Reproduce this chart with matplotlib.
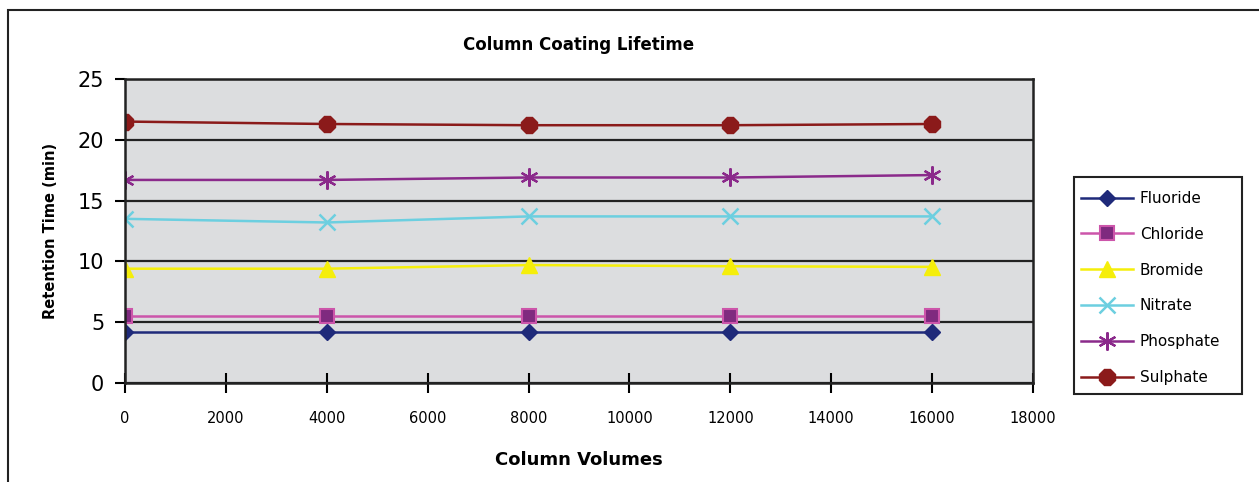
import matplotlib
matplotlib.use("Agg")
import matplotlib.pyplot as plt
from matplotlib.patches import Rectangle

column_volumes = [0, 4000, 8000, 12000, 16000]
fluoride = [4.2, 4.2, 4.2, 4.2, 4.2]
chloride = [5.5, 5.5, 5.5, 5.5, 5.5]
bromide = [9.4, 9.4, 9.7, 9.6, 9.55]
nitrate = [13.5, 13.2, 13.7, 13.7, 13.7]
phosphate = [16.7, 16.7, 16.9, 16.9, 17.1]
sulphate = [21.5, 21.3, 21.2, 21.2, 21.3]

series = [
    ("Fluoride", fluoride, dict(color="#1f2a7a", marker="D", markersize=8, mfc="#1f2a7a", mec="#1f2a7a")),
    ("Chloride", chloride, dict(color="#cc55aa", marker="s", markersize=10, mfc="#7f2a7f", mec="#cc55aa", mew=1.5)),
    ("Bromide", bromide, dict(color="#f5ee0a", marker="^", markersize=11, mfc="#f5ee0a", mec="#f5ee0a")),
    ("Nitrate", nitrate, dict(color="#6ccfe0", marker="x", markersize=11, mew=1.8, mec="#6ccfe0")),
    ("Phosphate", phosphate, dict(color="#8b2a8b", marker=(6, 2, 0), markersize=13, mew=1.6, mec="#8b2a8b")),
    ("Sulphate", sulphate, dict(color="#8b1a1a", marker="8", markersize=12, mfc="#8b1a1a", mec="#8b1a1a")),
]

plt.rcParams['font.family'] = ['DejaVu Sans']

fig = plt.figure(figsize=(12.59, 4.82), dpi=100)
W, H = 1259, 482
ax = fig.add_axes([125 / W, 1 - 383 / H, (1033 - 125) / W, (383 - 79) / H])
ax.set_facecolor("#dcdddf")

for name, vals, st in series:
    ax.plot(column_volumes, vals, label=name, lw=1.8, **st)

ax.set_xlim(0, 18000)
ax.set_ylim(0, 25)
ax.set_xticks(range(0, 18001, 2000))
ax.set_yticks(range(0, 26, 5))
ax.yaxis.grid(True, color="#222222", lw=1.6)
ax.set_axisbelow(True)
for s in ax.spines.values():
    s.set_color("#222222")
    s.set_linewidth(1.8)
ax.tick_params(axis="y", direction="out", length=7, width=1.5, labelsize=15, pad=8)
ax.tick_params(axis="x", direction="inout", length=14, width=1.5, labelsize=10.5, pad=13.5)

ax.set_title("Column Coating Lifetime", fontsize=12, fontweight="bold", pad=21)
ax.set_xlabel("Column Volumes", fontsize=13, fontweight="bold", labelpad=18)
ax.set_ylabel("Retention Time (min)", fontsize=10.5, fontweight="bold", labelpad=14)

leg = fig.legend(loc="upper left", bbox_to_anchor=(1081 / W, 1 - 191 / H), frameon=False,
                 fontsize=11, handlelength=3.4, labelspacing=1.36, borderpad=0,
                 handletextpad=0.45, borderaxespad=0)

fig.patches.append(Rectangle((1074 / W, 1 - 394 / H), (1242 - 1074) / W, (394 - 177) / H,
                             transform=fig.transFigure, fill=True, facecolor="white",
                             edgecolor="#222222", lw=1.5, zorder=0))
fig.patches.append(Rectangle((8 / W, -0.1), 1.1, 1.1 - 10 / H, transform=fig.transFigure,
                             fill=False, edgecolor="#222222", lw=1.5))

fig.savefig("out.png", dpi=100)
